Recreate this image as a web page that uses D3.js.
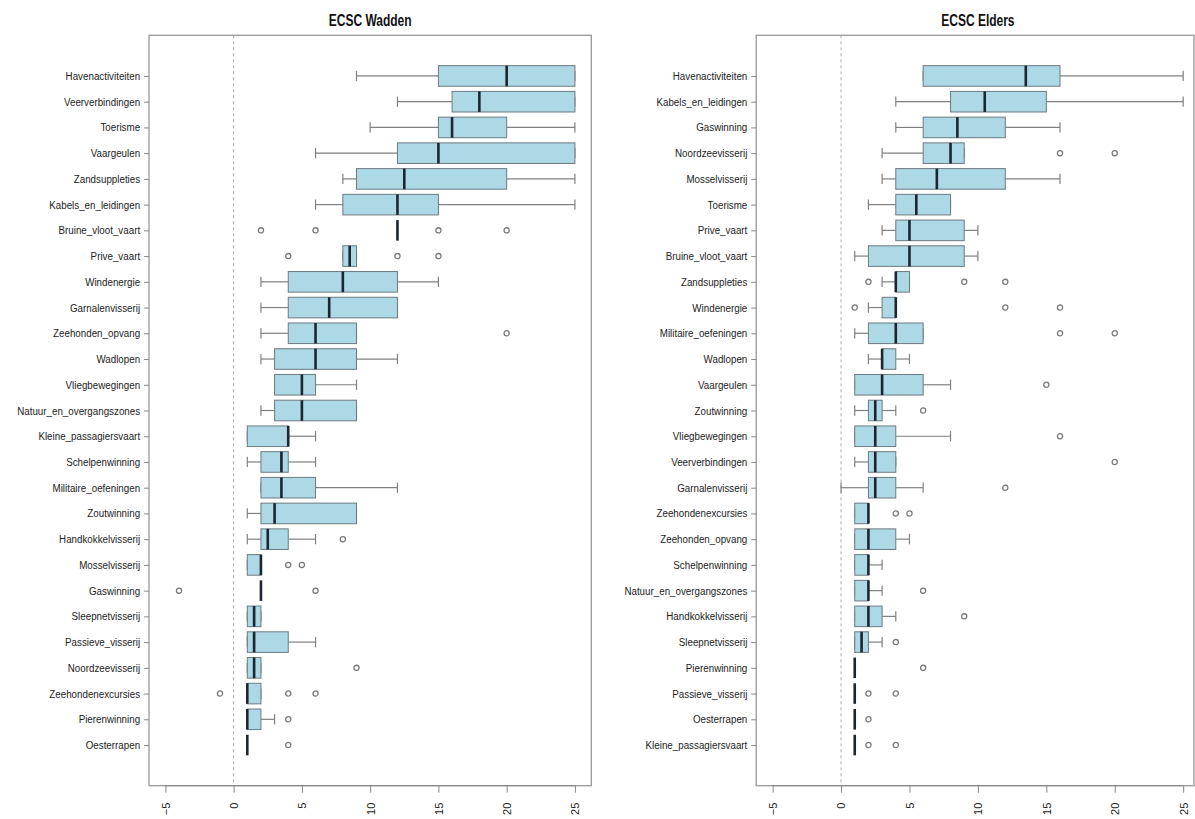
<!DOCTYPE html>
<html>
<head>
<meta charset="utf-8">
<script src="https://cdn.jsdelivr.net/npm/d3@7"></script>
<style>
  html, body { margin: 0; padding: 0; background: #fff; }
  svg { display: block; font-family: "Liberation Sans", Arial, sans-serif; }
</style>
</head>
<body>
<svg id="chart" width="1195" height="819"></svg>
<script>
// ---------- DATA ----------
const xTicks = [-5, 0, 5, 10, 15, 20, 25];

// ECSC Wadden
const wadTitle = "ECSC Wadden";
const wadCategories = ["Havenactiviteiten","Veerverbindingen","Toerisme","Vaargeulen","Zandsuppleties","Kabels_en_leidingen","Bruine_vloot_vaart","Prive_vaart","Windenergie","Garnalenvisserij","Zeehonden_opvang","Wadlopen","Vliegbewegingen","Natuur_en_overgangszones","Kleine_passagiersvaart","Schelpenwinning","Militaire_oefeningen","Zoutwinning","Handkokkelvisserij","Mosselvisserij","Gaswinning","Sleepnetvisserij","Passieve_visserij","Noordzeevisserij","Zeehondenexcursies","Pierenwinning","Oesterrapen"];
const wadMin = [9, 12, 10, 6, 8, 6, 12, 8, 2, 2, 2, 2, 3, 2, 1, 1, 2, 1, 1, 1, 2, 1, 1, 1, 1, 1, 1];
const wadQ1  = [15, 16, 15, 12, 9, 8, 12, 8, 4, 4, 4, 3, 3, 3, 1, 2, 2, 2, 2, 1, 2, 1, 1, 1, 1, 1, 1];
const wadMed = [20, 18, 16, 15, 12.5, 12, 12, 8.5, 8, 7, 6, 6, 5, 5, 4, 3.5, 3.5, 3, 2.5, 2, 2, 1.5, 1.5, 1.5, 1, 1, 1];
const wadQ3  = [25, 25, 20, 25, 20, 15, 12, 9, 12, 12, 9, 9, 6, 9, 4, 4, 6, 9, 4, 2, 2, 2, 4, 2, 2, 2, 1];
const wadMax = [25, 25, 25, 25, 25, 25, 12, 9, 15, 12, 9, 12, 9, 9, 6, 6, 12, 9, 6, 2, 2, 2, 6, 2, 2, 3, 1];
const wadOut = [[], [], [], [], [], [], [2, 6, 15, 20], [4, 12, 15], [], [], [20], [], [], [], [], [], [], [], [8], [4, 5], [-4, 6], [], [], [9], [-1, 4, 6], [4], [4]];

// ECSC Elders
const eldTitle = "ECSC Elders";
const eldCategories = ["Havenactiviteiten","Kabels_en_leidingen","Gaswinning","Noordzeevisserij","Mosselvisserij","Toerisme","Prive_vaart","Bruine_vloot_vaart","Zandsuppleties","Windenergie","Militaire_oefeningen","Wadlopen","Vaargeulen","Zoutwinning","Vliegbewegingen","Veerverbindingen","Garnalenvisserij","Zeehondenexcursies","Zeehonden_opvang","Schelpenwinning","Natuur_en_overgangszones","Handkokkelvisserij","Sleepnetvisserij","Pierenwinning","Passieve_visserij","Oesterrapen","Kleine_passagiersvaart"];
const eldMin = [6, 4, 4, 3, 3, 2, 3, 1, 3, 2, 1, 2, 1, 1, 1, 1, 0, 1, 1, 1, 1, 1, 1, 1, 1, 1, 1];
const eldQ1  = [6, 8, 6, 6, 4, 4, 4, 2, 4, 3, 2, 3, 1, 2, 1, 2, 2, 1, 1, 1, 1, 1, 1, 1, 1, 1, 1];
const eldMed = [13.5, 10.5, 8.5, 8, 7, 5.5, 5, 5, 4, 4, 4, 3, 3, 2.5, 2.5, 2.5, 2.5, 2, 2, 2, 2, 2, 1.5, 1, 1, 1, 1];
const eldQ3  = [16, 15, 12, 9, 12, 8, 9, 9, 5, 4, 6, 4, 6, 3, 4, 4, 4, 2, 4, 2, 2, 3, 2, 1, 1, 1, 1];
const eldMax = [25, 25, 16, 9, 16, 8, 10, 10, 5, 4, 6, 5, 8, 4, 8, 4, 6, 2, 5, 3, 3, 4, 3, 1, 1, 1, 1];
const eldOut = [[], [], [], [16, 20], [], [], [], [], [2, 9, 12], [1, 12, 16], [16, 20], [], [15], [6], [16], [20], [12], [4, 5], [], [], [6], [9], [4], [6], [2, 4], [2], [2, 4]];

// ---------- DRAWING ----------
const svg = d3.select("#chart");
const plotTop = 35.3, plotBottom = 785.7;
const xDomain = [-6.2, 26.2];

function drawPanel(cfg) {
  const n = cfg.categories.length;
  const x = d3.scaleLinear().domain(xDomain).range([cfg.left, cfg.right]);
  const y = d3.scaleLinear().domain([0.5 - 0.04 * n, n + 0.5 + 0.04 * n]).range([plotTop, plotBottom]);
  const pos = i => y(i + 1);
  const half = 0.4 * (y(1) - y(0));
  const staple = half / 2;
  const g = svg.append("g");

  // title
  const cx = (x(xDomain[0]) + x(xDomain[1])) / 2;
  g.append("text")
    .attr("transform", `translate(${cx},26) scale(0.75,1)`)
    .attr("text-anchor", "middle")
    .attr("font-size", 16).attr("font-weight", "bold").attr("fill", "#111")
    .text(cfg.title);

  // zero reference line
  g.append("line")
    .attr("x1", x(0)).attr("x2", x(0)).attr("y1", plotTop).attr("y2", plotBottom)
    .attr("stroke", "#aaa").attr("stroke-width", 1).attr("stroke-dasharray", "3,3");

  // boxes
  const rows = g.selectAll("g.row").data(cfg.categories).join("g").attr("class", "row")
    .attr("transform", (d, i) => `translate(0,${pos(i)})`);

  rows.each(function (d, i) {
    const r = d3.select(this);
    const wc = "#808080";
    r.append("line").attr("x1", x(cfg.min[i])).attr("x2", x(cfg.q1[i])).attr("y1", 0).attr("y2", 0)
      .attr("stroke", wc).attr("stroke-width", 1.2);
    r.append("line").attr("x1", x(cfg.q3[i])).attr("x2", x(cfg.max[i])).attr("y1", 0).attr("y2", 0)
      .attr("stroke", wc).attr("stroke-width", 1.2);
    [cfg.min[i], cfg.max[i]].forEach(v => {
      r.append("line").attr("x1", x(v)).attr("x2", x(v)).attr("y1", -staple).attr("y2", staple)
        .attr("stroke", wc).attr("stroke-width", 1.2);
    });
    r.append("rect")
      .attr("x", x(cfg.q1[i])).attr("y", -half)
      .attr("width", Math.max(0, x(cfg.q3[i]) - x(cfg.q1[i]))).attr("height", 2 * half)
      .attr("fill", "#ADD8E6").attr("stroke", "#6c7a80").attr("stroke-width", 1);
    r.append("line").attr("x1", x(cfg.med[i])).attr("x2", x(cfg.med[i])).attr("y1", -half).attr("y2", half)
      .attr("stroke", "#1b2630").attr("stroke-width", 2.6);
    r.selectAll("circle").data(cfg.out[i]).join("circle")
      .attr("cx", v => x(v)).attr("cy", 0).attr("r", 2.6)
      .attr("fill", "none").attr("stroke", "#7a7a7a").attr("stroke-width", 1.3);
  });

  // frame
  const fr = Math.min(x(xDomain[1]), 1194);
  g.append("rect")
    .attr("x", x(xDomain[0])).attr("y", plotTop)
    .attr("width", fr - x(xDomain[0])).attr("height", plotBottom - plotTop)
    .attr("fill", "none").attr("stroke", "#999").attr("stroke-width", 1.3);

  // y axis
  const yAxis = d3.axisLeft(d3.scaleOrdinal().domain(cfg.categories).range(cfg.categories.map((c, i) => pos(i))))
    .tickSize(5).tickPadding(5);
  const ya = g.append("g").attr("transform", `translate(${x(xDomain[0])},0)`).call(yAxis);
  ya.select(".domain").remove();
  ya.selectAll(".tick line").attr("stroke", "#888");
  ya.selectAll(".tick text").attr("font-size", 11).attr("fill", "#222")
    .attr("font-family", "Liberation Sans, Arial, sans-serif")
    .attr("transform", "scale(0.89,1)");

  // x axis
  const xAxis = d3.axisBottom(x).tickValues(xTicks).tickSize(7).tickSizeOuter(0).tickFormat(d3.format("d"));
  const xa = g.append("g").attr("transform", `translate(0,${plotBottom})`).call(xAxis);
  xa.select(".domain").attr("stroke", "#888").attr("d", `M${x(xTicks[0])},0H${x(xTicks[xTicks.length - 1])}`);
  xa.selectAll(".tick line").attr("stroke", "#888");
  xa.selectAll(".tick text")
    .attr("font-size", 11).attr("fill", "#222")
    .attr("font-family", "Liberation Sans, Arial, sans-serif")
    .attr("transform", "rotate(-90)")
    .attr("x", -17).attr("y", 0).attr("dy", "0.35em")
    .attr("text-anchor", "end");
}

drawPanel({ title: wadTitle, categories: wadCategories, min: wadMin, q1: wadQ1, med: wadMed, q3: wadQ3, max: wadMax, out: wadOut, left: 149, right: 591.3 });
drawPanel({ title: eldTitle, categories: eldCategories, min: eldMin, q1: eldQ1, med: eldMed, q3: eldQ3, max: eldMax, out: eldOut, left: 756.2, right: 1199.6 });
</script>
</body>
</html>
